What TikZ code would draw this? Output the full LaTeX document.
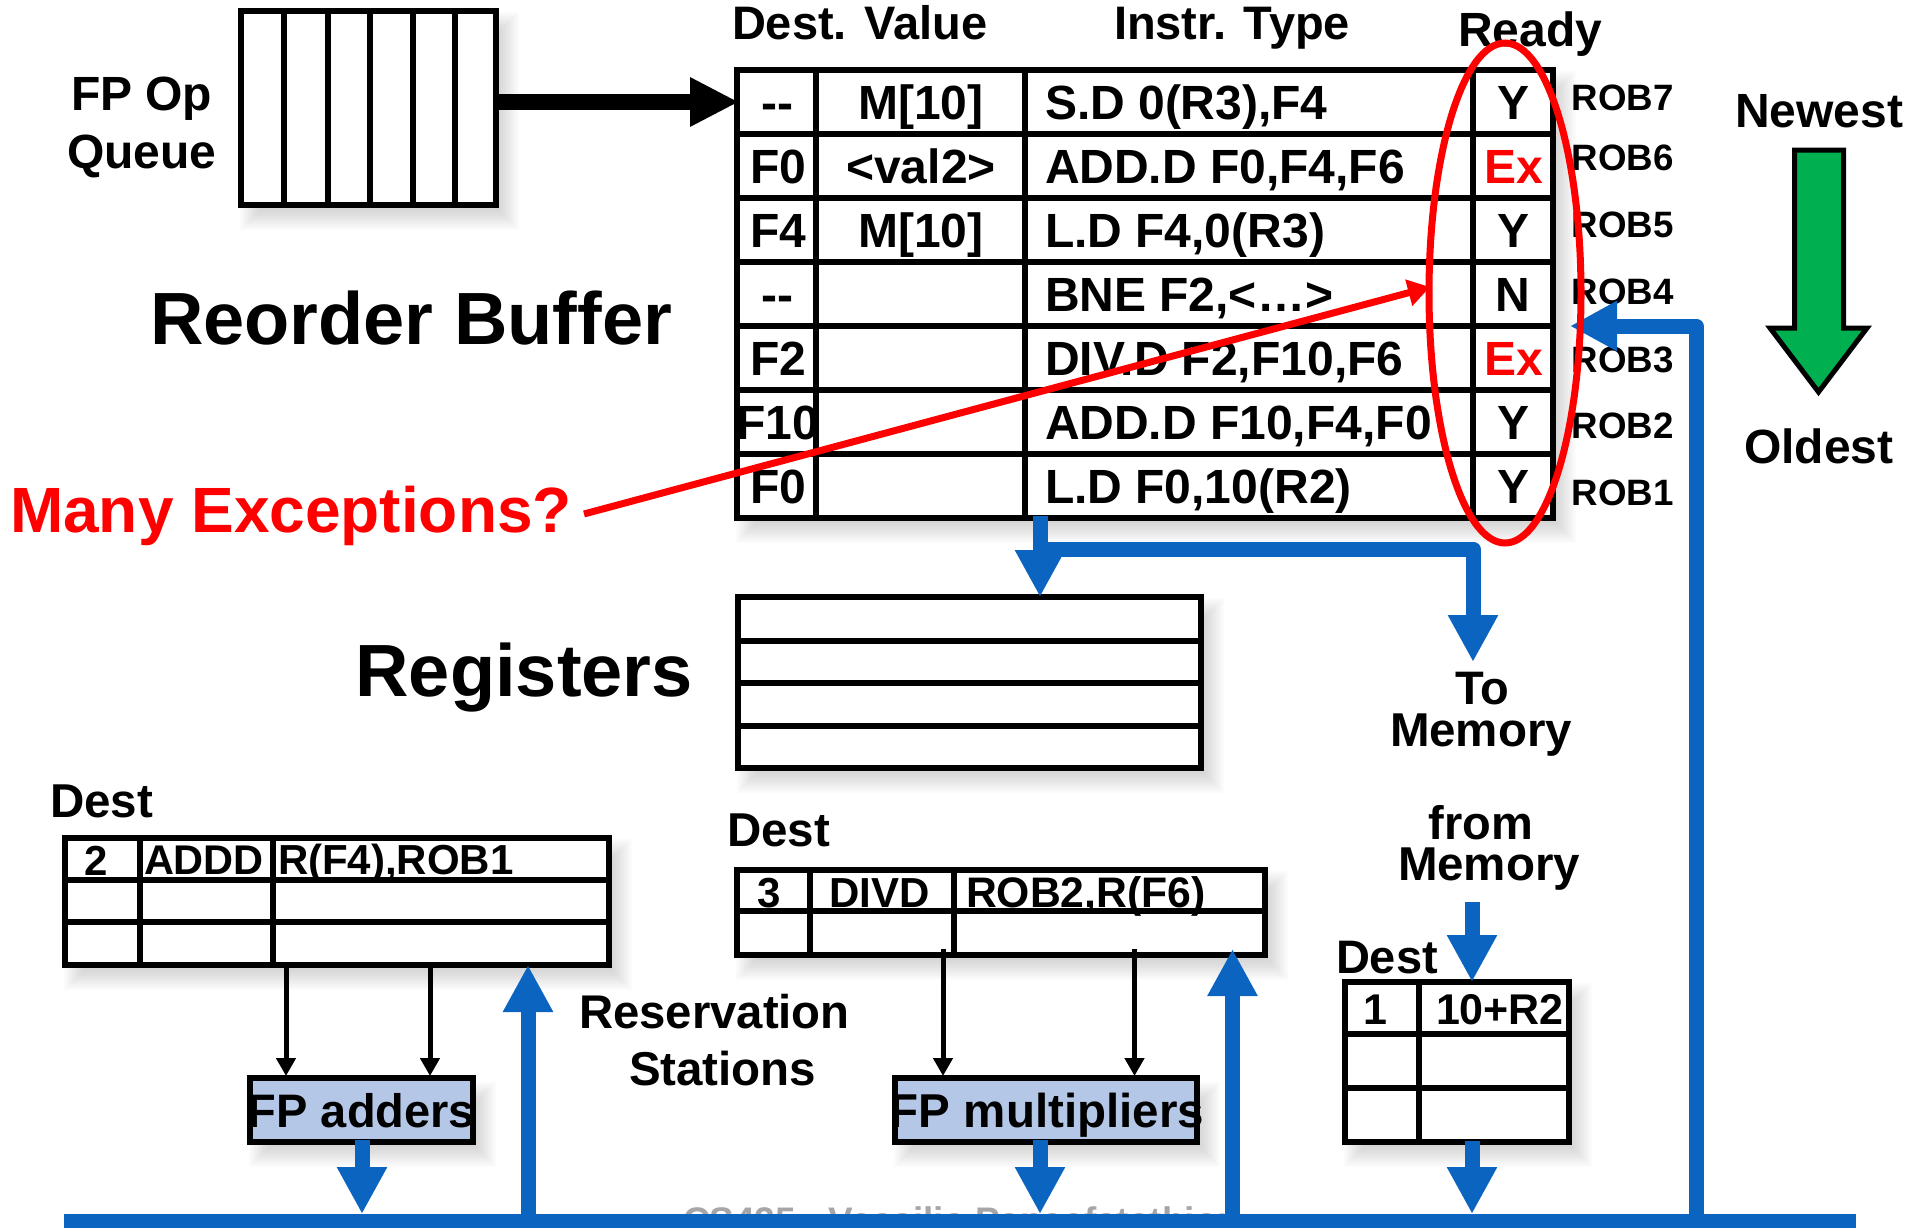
\documentclass[tikz,border=0pt]{standalone}
\usepackage{fontspec}
\setmainfont{Liberation Sans}
\usetikzlibrary{arrows.meta,shapes.geometric}
\definecolor{busblue}{RGB}{10,100,192}
\definecolor{fuboxfill}{RGB}{180,199,231}
\definecolor{exred}{RGB}{255,0,0}
\definecolor{arrowgreen}{RGB}{0,176,80}
\newcommand\fz[1]{\fontsize{#1}{#1}\selectfont\bfseries}
\newcommand\softshadow[4]{%
  \foreach \i in {-12,-10,...,12}{
    \fill[black,opacity=.014] (#1+11-\i,#2+13-\i) rectangle (#3+11+\i,#4+13+\i);
  }}
\tikzset{
  lbl/.style={inner sep=0pt,outer sep=0pt,anchor=base west,text=black},
  ctr/.style={inner sep=0pt,outer sep=0pt,anchor=base,text=black},
  framebox/.style={draw=black,fill=white,line width=6pt,inner sep=0pt,outer sep=0pt},
  gridline/.style={draw=black,line width=6pt},
  fubox/.style={draw=black,fill=fuboxfill,line width=6pt,inner sep=0pt,outer sep=0pt},
  busarrow/.style={draw=busblue,line width=15pt,line cap=butt,
     -{Triangle[length=47pt,width=47pt]}},
  thinarrow/.style={draw=black,line width=5pt,-{Triangle[length=18pt,width=19pt]}},
}
\begin{document}
\begin{tikzpicture}[x=1pt,y=-1pt]
\useasboundingbox (0,0) rectangle (1921,1228);
% shadows
\softshadow{241}{11}{496}{205}
\softshadow{737}{70}{1553}{518}
\softshadow{738}{597}{1201}{768}
\softshadow{65}{838}{609}{965}
\softshadow{737}{870}{1265}{955}
\softshadow{1345}{982}{1569}{1142}
\softshadow{250}{1081}{473}{1142}
\softshadow{895}{1081}{1197}{1142}

% instruction queue
\node[framebox,minimum width=255pt,minimum height=194pt] (queue) at (368.5,108) {};
\foreach \qx in {284,328,369.5,412.5,454.5}{\draw[gridline] (\qx,11) -- (\qx,205);}
\node[lbl,font=\fz{48}] (fpop) at (71,111) {FP Op};
\node[lbl,font=\fz{48}] (fpq) at (67,168) {Queue};

% ROB
\node[framebox,minimum width=816pt,minimum height=448pt] (rob) at (1145,294) {};
\foreach \ry in {133.6,197.7,262,326,390,454}{\draw[gridline] (737,\ry) -- (1553,\ry);}
\foreach \cx in {816,1025,1473}{\draw[gridline] (\cx,70) -- (\cx,518);}
\node[lbl,font=\fz{47}] (hdest) at (732,39.5) {Dest. Value};
\node[lbl,font=\fz{47}] (htype) at (1114,39.5) {Instr. Type};
\node[lbl,font=\fz{48}] (hready) at (1458,46.5) {Ready};

\node[ctr,font=\fz{48}] (d7) at (777,120) {-{}-};
\node[ctr,font=\fz{48}] (d6) at (778,183) {F0};
\node[ctr,font=\fz{48}] (d5) at (778,247) {F4};
\node[ctr,font=\fz{48}] (d4) at (777,311) {-{}-};
\node[ctr,font=\fz{48}] (d3) at (778,375) {F2};
\node[ctr,font=\fz{48}] (d2) at (778,439) {F10};
\node[ctr,font=\fz{48}] (d1) at (778,503) {F0};
\node[ctr,font=\fz{48}] (v7) at (921,120) {M[10]};
\node[ctr,font=\fz{48}] (v6) at (921,183) {<val2>};
\node[ctr,font=\fz{48}] (v5) at (921,247) {M[10]};
\node[lbl,font=\fz{48}] (i7) at (1045,120) {S.D 0(R3),F4};
\node[lbl,font=\fz{48}] (i6) at (1045,183) {ADD.D F0,F4,F6};
\node[lbl,font=\fz{48}] (i5) at (1045,247) {L.D F4,0(R3)};
\node[lbl,font=\fz{48}] (i4) at (1045,311) {BNE F2,<…>};
\node[lbl,font=\fz{48}] (i3) at (1045,375) {DIV.D F2,F10,F6};
\node[lbl,font=\fz{48}] (i2) at (1045,439) {ADD.D F10,F4,F0};
\node[lbl,font=\fz{48}] (i1) at (1045,503) {L.D F0,10(R2)};
\node[ctr,font=\fz{48}] (r7) at (1513,120) {Y};
\node[ctr,font=\fz{48},text=exred] (r6) at (1514,183) {Ex};
\node[ctr,font=\fz{48}] (r5) at (1513,247) {Y};
\node[ctr,font=\fz{48}] (r4) at (1513,311) {N};
\node[ctr,font=\fz{48},text=exred] (r3) at (1514,375) {Ex};
\node[ctr,font=\fz{48}] (r2) at (1513,439) {Y};
\node[ctr,font=\fz{48}] (r1) at (1513,503) {Y};
\node[lbl,font=\fz{36.7}] (rob7) at (1571.5,111) {ROB7};
\node[lbl,font=\fz{36.7}] (rob6) at (1571.5,170) {ROB6};
\node[lbl,font=\fz{36.7}] (rob5) at (1571.5,237) {ROB5};
\node[lbl,font=\fz{36.7}] (rob4) at (1571.5,304) {ROB4};
\node[lbl,font=\fz{36.7}] (rob3) at (1571.5,372) {ROB3};
\node[lbl,font=\fz{36.7}] (rob2) at (1571.5,438) {ROB2};
\node[lbl,font=\fz{36.7}] (rob1) at (1571.5,505) {ROB1};

\node[lbl,font=\fz{74}] (title) at (150,344.5) {Reorder Buffer};
\node[lbl,font=\fz{74}] (regtitle) at (355.5,696) {Registers};
\node[lbl,font=\fz{64},text=exred] (many) at (10,532) {Many Exceptions?};

% registers
\node[framebox,minimum width=463pt,minimum height=171pt] (regs) at (969.5,682.5) {};
\foreach \ry in {641,683,726}{\draw[gridline] (738,\ry) -- (1201,\ry);}

% newest/oldest
\node[lbl,font=\fz{48}] (newest) at (1735,127.5) {Newest};
\node[lbl,font=\fz{48}] (oldest) at (1744,463) {Oldest};
\draw[black,line width=5pt,fill=arrowgreen,line join=miter]
  (1794.5,150) -- (1843.5,150) -- (1843.5,328) -- (1867,328) -- (1818.5,392) -- (1770,328) -- (1794.5,328) -- cycle;

% reservation stations
\node[lbl,font=\fz{47.5}] (dest1) at (50,817.5) {Dest};
\node[framebox,minimum width=544pt,minimum height=127pt] (rs1) at (337,901.5) {};
\draw[gridline] (65,880) -- (609,880);
\draw[gridline] (65,922) -- (609,922);
\draw[gridline] (140,838) -- (140,965);
\draw[gridline] (273,838) -- (273,965);
\node[ctr,font=\fz{42}] (rs1a) at (96,875.5) {2};
\node[lbl,font=\fz{41.5}] (rs1b) at (144,874) {ADDD};
\node[lbl,font=\fz{42}] (rs1c) at (278,874) {R(F4),ROB1};

\node[lbl,font=\fz{47.5}] (dest2) at (727,846) {Dest};
\node[framebox,minimum width=528pt,minimum height=85pt] (rs2) at (1001,912.5) {};
\draw[gridline] (737,911) -- (1265,911);
\draw[gridline] (810,870) -- (810,955);
\draw[gridline] (954,870) -- (954,955);
\node[ctr,font=\fz{42}] (rs2a) at (769,907.5) {3};
\node[lbl,font=\fz{42}] (rs2b) at (829,907.5) {DIVD};
\node[lbl,font=\fz{42.7}] (rs2c) at (966,907.5) {ROB2,R(F6)};

\node[lbl,font=\fz{47.3}] (res1) at (579,1028) {Reservation};
\node[lbl,font=\fz{47.5}] (res2) at (629,1085) {Stations};

\node[lbl,font=\fz{47}] (dest3) at (1336,973) {Dest};
\node[framebox,minimum width=224pt,minimum height=160pt] (rs3) at (1457,1062) {};
\draw[gridline] (1345,1034) -- (1569,1034);
\draw[gridline] (1345,1088) -- (1569,1088);
\draw[gridline] (1419,982) -- (1419,1142);
\node[ctr,font=\fz{43}] (rs3a) at (1375,1024) {1};
\node[lbl,font=\fz{43}] (rs3b) at (1436,1024) {10+R2};

\node[ctr,font=\fz{47}] (to) at (1482,704) {To};
\node[lbl,font=\fz{47.5}] (mem1) at (1390,746) {Memory};
\node[ctr,font=\fz{47}] (from) at (1481,839) {from};
\node[lbl,font=\fz{47.5}] (mem2) at (1398,880) {Memory};

% functional units
\node[fubox,minimum width=223pt,minimum height=64pt] (add) at (361.5,1110) {};
\node[fubox,minimum width=302pt,minimum height=64pt] (mul) at (1046,1110) {};
\node[ctr,font=\fz{47}] (addt) at (361.5,1127) {FP adders};
\node[ctr,font=\fz{47.5}] (mult) at (1047,1127) {FP multipliers};

% thin arrows
\coordinate (a1s) at (286,965); \coordinate (a1e) at (286,1076);
\coordinate (a2s) at (430,965); \coordinate (a2e) at (430,1076);
\coordinate (m1s) at (943,949); \coordinate (m1e) at (943,1076);
\coordinate (m2s) at (1134.5,949); \coordinate (m2e) at (1134.5,1076);
\draw[thinarrow] (a1s) -- (a1e);
\draw[thinarrow] (a2s) -- (a2e);
\draw[thinarrow] (m1s) -- (m1e);
\draw[thinarrow] (m2s) -- (m2e);

% footer ghost + bus
\node[lbl,font=\fz{37},text=black!35] (foot) at (683,1233.5) {CS425 - Vassilis Papaefstathiou};
\coordinate (busL) at (64,1221); \coordinate (busR) at (1856,1221);
\draw[draw=busblue,line width=14pt] (busL) -- (busR);

% blue arrows
\coordinate (addout) at (362,1140); \coordinate (addbus) at (362,1214);
\coordinate (mulout) at (1040,1140); \coordinate (mulbus) at (1040,1214);
\coordinate (memout) at (1472,1141); \coordinate (membus) at (1472,1214);
\coordinate (cdbA) at (528,1216); \coordinate (cdbAe) at (528,965);
\coordinate (cdbM) at (1232.5,1216); \coordinate (cdbMe) at (1232.5,949);
\coordinate (memin) at (1472,902); \coordinate (mem3) at (1472,982);
\coordinate (robout) at (1040,516); \coordinate (regin) at (1040,597);
\coordinate (br) at (1040,549); \coordinate (brc) at (1473,549); \coordinate (tomem) at (1473,662);
\coordinate (cdbR) at (1696,1216); \coordinate (cdbRc) at (1696,326); \coordinate (robin) at (1570,326);
\draw[busarrow] (addout) -- (addbus);
\draw[busarrow] (mulout) -- (mulbus);
\draw[busarrow] (memout) -- (membus);
\draw[busarrow] (cdbA) -- (cdbAe);
\draw[busarrow] (cdbM) -- (cdbMe);
\draw[busarrow] (memin) -- (mem3);
\draw[busarrow] (robout) -- (regin);
\draw[busarrow,line join=round] (br) -- (brc) -- (tomem);
\draw[busarrow,line join=round] (cdbR) -- (cdbRc) -- (robin);

% big black arrow
\coordinate (qout) at (496,102); \coordinate (robinq) at (739,102);
\draw[black,line width=16pt,-{Triangle[length=49pt,width=46pt]}] (qout) -- (robinq);

% ellipse and red arrow
\node[draw=exred,line width=7pt,ellipse,minimum width=152pt,minimum height=500pt,inner sep=0pt,outer sep=0pt] (readyring) at (1505,293) {};
\coordinate (manyout) at (584,514); \coordinate (ellL) at (1430,287);
\draw[draw=exred,line width=7pt,-{Triangle[length=22pt,width=26pt]}] (manyout) -- (ellL);
\end{tikzpicture}
\end{document}
